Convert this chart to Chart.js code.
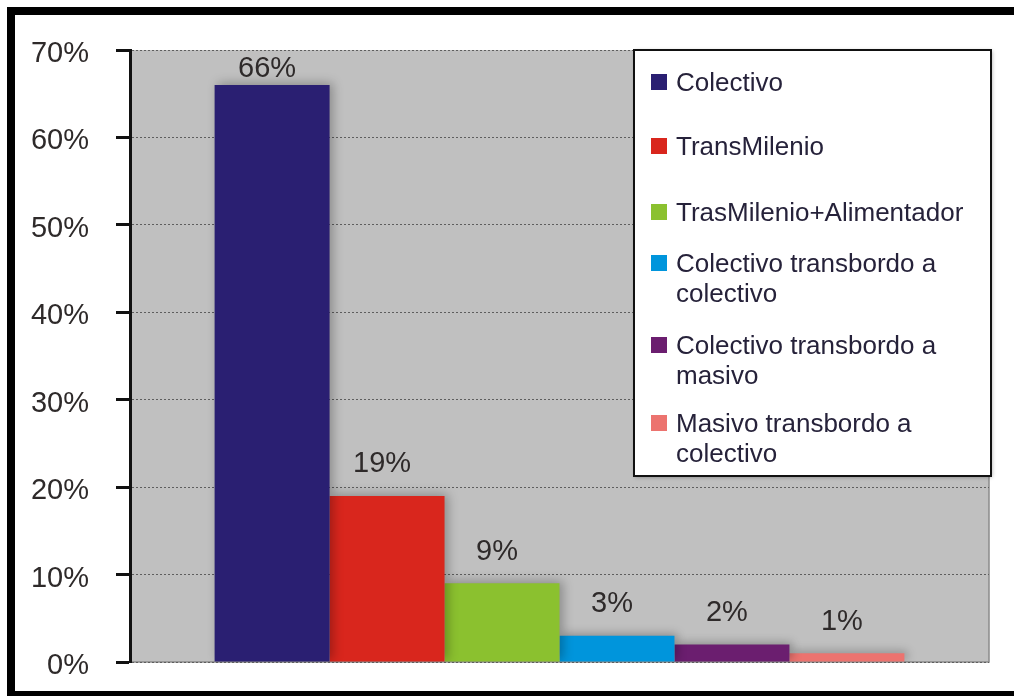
<!DOCTYPE html>
<html>
<head>
<meta charset="utf-8">
<script src="https://cdn.jsdelivr.net/npm/chart.js@4/dist/chart.umd.min.js"></script>
<style>
  html, body { margin: 0; padding: 0; background: #fff; }
  #wrap { width: 1014px; height: 696px; position: relative; }
</style>
</head>
<body>
<div id="wrap"><canvas id="c" width="1014" height="696"></canvas></div>
<script>
// ---- data ----
const categories = [''];
const seriesLabels = [
  'Colectivo',
  'TransMilenio',
  'TrasMilenio+Alimentador',
  'Colectivo transbordo a colectivo',
  'Colectivo transbordo a masivo',
  'Masivo transbordo a colectivo'
];
const seriesValues = [66, 19, 9, 3, 2, 1];
const seriesColors = ['#2a1f72', '#d9261d', '#8bc12f', '#0095dc', '#6b1e6f', '#ec736f'];
const yTickValues = [0, 10, 20, 30, 40, 50, 60, 70];
const yTickSuffix = '%';

const FONT = '"Liberation Sans", Arial, sans-serif';

const bgPlugin = {
  id: 'bg',
  beforeDraw(chart) {
    const {ctx, chartArea: a} = chart;
    ctx.save();
    ctx.fillStyle = '#c0c0c0';
    ctx.fillRect(a.left, a.top, a.right - a.left, a.bottom - a.top);
    ctx.strokeStyle = '#8a8a8a';
    ctx.lineWidth = 1.5;
    ctx.beginPath();
    ctx.moveTo(a.right, a.top);
    ctx.lineTo(a.right, a.bottom);
    ctx.lineTo(a.left, a.bottom);
    ctx.stroke();
    ctx.restore();
  },
  beforeDatasetDraw(chart) {
    const ctx = chart.ctx;
    ctx.save();
    ctx.shadowColor = 'rgba(0,0,0,0.28)';
    ctx.shadowBlur = 10;
    ctx.shadowOffsetX = 3;
    ctx.shadowOffsetY = -2;
  },
  afterDatasetDraw(chart) {
    chart.ctx.restore();
  }
};

const labelPlugin = {
  id: 'vals',
  afterDatasetsDraw(chart) {
    const {ctx, chartArea: a} = chart;
    ctx.save();
    ctx.font = '29px ' + FONT;
    ctx.fillStyle = '#2e2a2a';
    ctx.textAlign = 'center';
    ctx.textBaseline = 'bottom';
    chart.data.datasets.forEach((ds, i) => {
      const el = chart.getDatasetMeta(i).data[0];
      let y = el.y - 17;
      y = Math.max(y, a.top + 33);
      ctx.fillText(ds.data[0] + yTickSuffix, el.x - 5, y);
    });
    ctx.restore();
  }
};

const legendPlugin = {
  id: 'boxLegend',
  afterDraw(chart) {
    const {ctx, chartArea: a} = chart;
    const x0 = a.right - 355, y0 = a.top, w = 357, h = 426;
    ctx.save();
    ctx.shadowColor = 'rgba(0,0,0,0.35)';
    ctx.shadowBlur = 4;
    ctx.shadowOffsetX = 1;
    ctx.shadowOffsetY = 1;
    ctx.fillStyle = '#fff';
    ctx.fillRect(x0, y0, w, h);
    ctx.shadowColor = 'transparent';
    ctx.strokeStyle = '#111';
    ctx.lineWidth = 2;
    ctx.strokeRect(x0, y0, w, h);
    ctx.font = '26px ' + FONT;
    ctx.textBaseline = 'middle';
    ctx.textAlign = 'left';
    const maxW = 300, lineH = 30;
    const gaps = [64, 66, 51, 52, 48];
    let y = y0 + 32;
    chart.data.datasets.forEach((ds, i) => {
      const words = ds.label.split(' ');
      const lines = [];
      let cur = '';
      words.forEach(wd => {
        const t = cur ? cur + ' ' + wd : wd;
        if (ctx.measureText(t).width > maxW && cur) { lines.push(cur); cur = wd; }
        else cur = t;
      });
      if (cur) lines.push(cur);
      ctx.fillStyle = ds.backgroundColor;
      ctx.fillRect(x0 + 17, y - 8, 16, 16);
      ctx.fillStyle = '#26223a';
      lines.forEach((ln, k) => ctx.fillText(ln, x0 + 42, y + 2 + k * lineH));
      y += (lines.length - 1) * lineH + (gaps[i] || 50);
    });
    ctx.restore();
  }
};

const framePlugin = {
  id: 'frame',
  afterDraw(chart) {
    const ctx = chart.ctx;
    ctx.save();
    ctx.fillStyle = '#000';
    ctx.fillRect(7, 7, 1007, 8);
    ctx.fillRect(7, 7, 8, 689);
    ctx.fillRect(7, 691, 1007, 5);
    ctx.restore();
  }
};

new Chart(document.getElementById('c'), {
  type: 'bar',
  data: {
    labels: categories,
    datasets: seriesLabels.map((lab, i) => ({
      label: lab,
      data: [seriesValues[i]],
      backgroundColor: seriesColors[i],
      borderWidth: 0,
      barPercentage: 1,
      categoryPercentage: 0.803
    }))
  },
  options: {
    responsive: false,
    animation: false,
    devicePixelRatio: 1,
    layout: { padding: { left: 0, top: 50, right: 25, bottom: 34 } },
    plugins: { legend: { display: false }, tooltip: { enabled: false } },
    scales: {
      x: { display: false, grid: { display: false } },
      y: {
        min: 0, max: 70,
        afterFit(scale) {
          scale.width = 130;
          scale.paddingTop = 0;
          scale.paddingBottom = 0;
        },
        afterBuildTicks(scale) { scale.ticks = yTickValues.map(v => ({ value: v })); },
        ticks: {
          stepSize: 10,
          padding: 27,
          labelOffset: 4,
          color: '#2e2a2a',
          font: { family: FONT, size: 29 },
          callback: v => v + yTickSuffix
        },
        grid: {
          color: '#5e5e5e',
          lineWidth: 1,
          tickLength: 14,
          tickColor: '#111',
          tickWidth: 3,
          tickBorderDash: []
        },
        border: { display: true, color: '#111', width: 3, dash: [2, 2] }
      }
    }
  },
  plugins: [bgPlugin, labelPlugin, legendPlugin, framePlugin]
});
</script>
</body>
</html>
